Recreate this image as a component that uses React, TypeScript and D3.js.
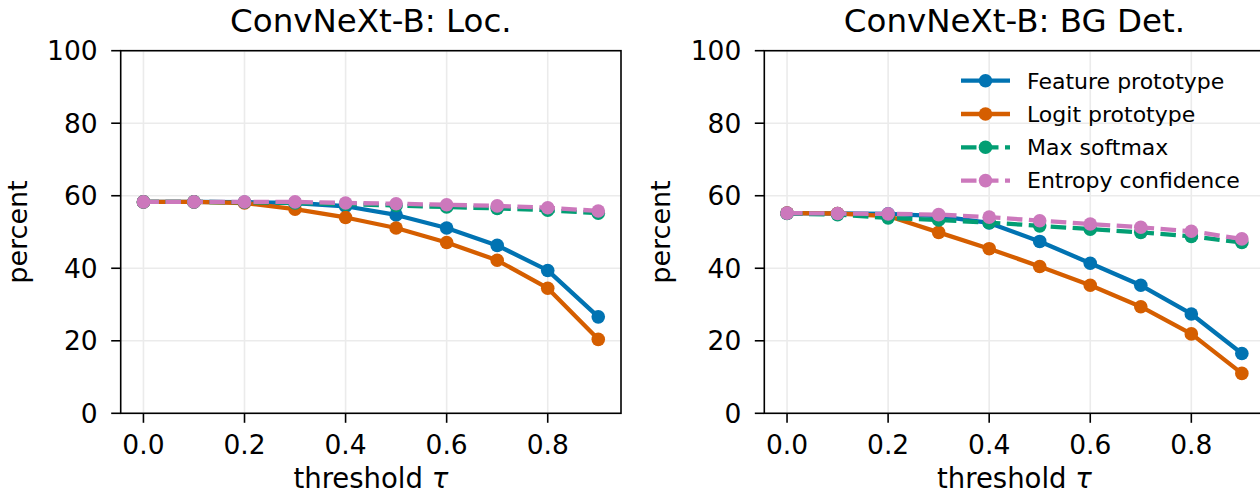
import React, { useEffect, useRef } from "react";
import * as d3 from "d3";

// thresholds on the x axis
const thresholds = [0.0, 0.1, 0.2, 0.3, 0.4, 0.5, 0.6, 0.7, 0.8, 0.9];
const xTicks = [0.0, 0.2, 0.4, 0.6, 0.8];
const yTicks = [0, 20, 40, 60, 80, 100];

// ConvNeXt-B: Loc.
const locFeature = [58.3, 58.3, 58.2, 58.0, 57.1, 54.7, 51.1, 46.3, 39.4, 26.6];
const locLogit = [58.3, 58.3, 58.0, 56.3, 54.0, 51.1, 47.1, 42.2, 34.5, 20.4];
const locMaxSoftmax = [58.3, 58.3, 58.2, 58.0, 57.7, 57.3, 56.9, 56.5, 56.0, 55.2];
const locEntropy = [58.3, 58.3, 58.3, 58.3, 58.0, 57.8, 57.5, 57.2, 56.7, 55.8];

// ConvNeXt-B: BG Det.
const bgFeature = [55.2, 55.1, 55.0, 54.4, 52.5, 47.4, 41.4, 35.3, 27.4, 16.5];
const bgLogit = [55.2, 55.1, 54.4, 49.9, 45.4, 40.5, 35.3, 29.4, 21.9, 11.0];
const bgMaxSoftmax = [55.1, 54.8, 53.9, 53.3, 52.6, 51.7, 50.8, 49.9, 48.8, 47.1];
const bgEntropy = [55.2, 55.1, 55.0, 54.8, 54.1, 53.1, 52.2, 51.3, 50.2, 48.1];

const seriesNames = ["Feature prototype", "Logit prototype", "Max softmax", "Entropy confidence"];
const seriesColors = ["#0173b2", "#d55e00", "#029e73", "#cc78bc"];
const seriesDashed = [false, false, true, true];

const panels = [
  { title: "ConvNeXt-B: Loc.", data: [locFeature, locLogit, locMaxSoftmax, locEntropy], left: 120.7, legend: false },
  { title: "ConvNeXt-B: BG Det.", data: [bgFeature, bgLogit, bgMaxSoftmax, bgEntropy], left: 764.3, legend: true },
];

const FONT = "DejaVu Sans, sans-serif";
const DASH = "15.5,6.5";

export default function App() {
  const ref = useRef<SVGSVGElement>(null);

  useEffect(() => {
    const svg = d3.select(ref.current);
    svg.selectAll("*").remove();

    const top = 50.7;
    const bottom = 413.3;
    const width = 500.3;

    panels.forEach((p, pi) => {
      const x = d3.scaleLinear().domain([-0.045, 0.945]).range([p.left, p.left + width]);
      const y = d3.scaleLinear().domain([0, 100]).range([bottom, top]);
      const g = svg.append("g");

      // grid
      g.selectAll(".gx")
        .data(xTicks)
        .enter()
        .append("line")
        .attr("x1", (d) => x(d))
        .attr("x2", (d) => x(d))
        .attr("y1", top)
        .attr("y2", bottom)
        .attr("stroke", "#ebebeb")
        .attr("stroke-width", 1.6);
      g.selectAll(".gy")
        .data(yTicks)
        .enter()
        .append("line")
        .attr("x1", p.left)
        .attr("x2", p.left + width)
        .attr("y1", (d) => y(d))
        .attr("y2", (d) => y(d))
        .attr("stroke", "#ebebeb")
        .attr("stroke-width", 1.6);

      const clipId = "clip" + pi;
      svg
        .append("clipPath")
        .attr("id", clipId)
        .append("rect")
        .attr("x", p.left)
        .attr("y", top)
        .attr("width", width)
        .attr("height", bottom - top);

      const line = d3
        .line<number>()
        .x((d, i) => x(thresholds[i]))
        .y((d) => y(d));

      const plot = g.append("g").attr("clip-path", `url(#${clipId})`);
      p.data.forEach((vals, si) => {
        plot
          .append("path")
          .attr("d", line(vals))
          .attr("fill", "none")
          .attr("stroke", seriesColors[si])
          .attr("stroke-width", 4.3)
          .attr("stroke-linejoin", "round")
          .attr("stroke-dasharray", seriesDashed[si] ? DASH : null);
        plot
          .selectAll(".m" + si)
          .data(vals)
          .enter()
          .append("circle")
          .attr("cx", (d, i) => x(thresholds[i]))
          .attr("cy", (d) => y(d))
          .attr("r", 6.8)
          .attr("fill", seriesColors[si]);
      });

      // spines
      g.append("rect")
        .attr("x", p.left)
        .attr("y", top)
        .attr("width", width)
        .attr("height", bottom - top)
        .attr("fill", "none")
        .attr("stroke", "#000")
        .attr("stroke-width", 1.6);

      // ticks
      g.selectAll(".tx")
        .data(xTicks)
        .enter()
        .append("line")
        .attr("x1", (d) => x(d))
        .attr("x2", (d) => x(d))
        .attr("y1", bottom)
        .attr("y2", bottom + 9.5)
        .attr("stroke", "#000")
        .attr("stroke-width", 1.6);
      g.selectAll(".txl")
        .data(xTicks)
        .enter()
        .append("text")
        .attr("x", (d) => x(d))
        .attr("y", 454)
        .attr("text-anchor", "middle")
        .style("font-family", FONT)
        .style("font-size", "26.5px")
        .text((d) => d3.format(".1f")(d));
      g.selectAll(".ty")
        .data(yTicks)
        .enter()
        .append("line")
        .attr("x1", p.left - 9.5)
        .attr("x2", p.left)
        .attr("y1", (d) => y(d))
        .attr("y2", (d) => y(d))
        .attr("stroke", "#000")
        .attr("stroke-width", 1.6);
      g.selectAll(".tyl")
        .data(yTicks)
        .enter()
        .append("text")
        .attr("x", p.left - 23)
        .attr("y", (d) => y(d) + 9.5)
        .attr("text-anchor", "end")
        .style("font-family", FONT)
        .style("font-size", "26.5px")
        .text((d) => d);

      // title and labels
      g.append("text")
        .attr("x", p.left + width / 2)
        .attr("y", 32)
        .attr("text-anchor", "middle")
        .style("font-family", FONT)
        .style("font-size", "32.5px")
        .text(p.title);
      const xl = g
        .append("text")
        .attr("x", p.left + width / 2)
        .attr("y", 488)
        .attr("text-anchor", "middle")
        .style("font-family", FONT)
        .style("font-size", "27.5px");
      xl.append("tspan").text("threshold ");
      xl.append("tspan").style("font-style", "italic").text("τ");
      g.append("text")
        .attr("transform", `translate(${p.left - 94},${(top + bottom) / 2}) rotate(-90)`)
        .attr("text-anchor", "middle")
        .style("font-family", FONT)
        .style("font-size", "27px")
        .text("percent");

      if (p.legend) {
        const lg = g.append("g");
        seriesNames.forEach((name, si) => {
          const cy = 80.7 + si * 33.3;
          lg.append("line")
            .attr("x1", 961)
            .attr("x2", 1010)
            .attr("y1", cy)
            .attr("y2", cy)
            .attr("stroke", seriesColors[si])
            .attr("stroke-width", 4.3)
            .attr("stroke-dasharray", seriesDashed[si] ? DASH : null);
          lg.append("circle").attr("cx", 985.5).attr("cy", cy).attr("r", 6.8).attr("fill", seriesColors[si]);
          lg.append("text")
            .attr("x", 1027)
            .attr("y", cy + 7.8)
            .style("font-family", FONT)
            .style("font-size", "22px")
            .text(name);
        });
      }
    });
  });

  return (
    <svg
      ref={ref}
      width={1260}
      height={494}
      style={{ position: "absolute", left: 0, top: 0, background: "#fff" }}
    />
  );
}
